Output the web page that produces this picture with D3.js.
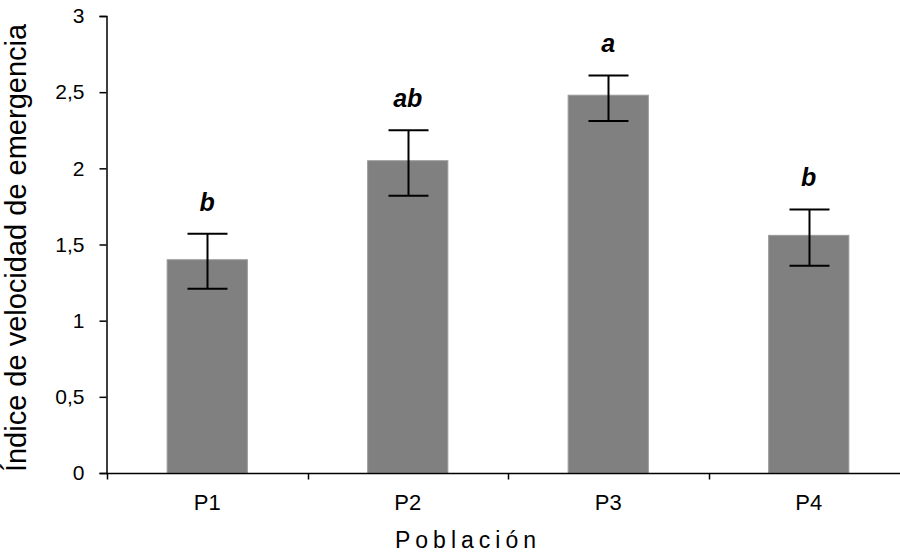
<!DOCTYPE html>
<html>
<head>
<meta charset="utf-8">
<script src="https://cdn.jsdelivr.net/npm/d3@7"></script>
<style>
  html, body { margin: 0; padding: 0; background: #fff; }
  svg { display: block; font-family: "Liberation Sans", Arial, sans-serif; }
</style>
</head>
<body>
<svg id="chart" width="900" height="554"></svg>
<script>
// Emergence speed index per population, with error bars and significance letters
const populations = ["P1", "P2", "P3", "P4"];
const means = [1.40, 2.05, 2.48, 1.56];
const errLow = [1.21, 1.82, 2.31, 1.36];
const errHigh = [1.57, 2.25, 2.61, 1.73];
const groups = ["b", "ab", "a", "b"];
const yTicks = [0, 0.5, 1, 1.5, 2, 2.5, 3];

const svg = d3.select("#chart");
const plotLeft = 107, plotRight = 909, plotTop = 16, plotBottom = 473;

const x = d3.scaleBand()
  .domain(populations)
  .range([plotLeft, plotRight])
  .paddingInner(0.6)
  .paddingOuter(0.3);

const y = d3.scaleLinear().domain([0, 3]).range([plotBottom, plotTop]);

const fmt = d => d3.format("")(d).replace(".", ",");

// Bars
svg.append("g").selectAll("rect")
  .data(populations)
  .join("rect")
  .attr("x", d => x(d))
  .attr("y", (d, i) => y(means[i]))
  .attr("width", x.bandwidth())
  .attr("height", (d, i) => y(0) - y(means[i]))
  .attr("fill", "#808080")
  .attr("stroke", "#9a9a9a")
  .attr("stroke-width", 1);

// Error bars
const capHalf = 20;
const eb = svg.append("g").attr("stroke", "#000").attr("stroke-width", 2);
populations.forEach((p, i) => {
  const cx = Math.round(x(p) + x.bandwidth() / 2) + 0.5;
  eb.append("line").attr("x1", cx).attr("x2", cx)
    .attr("y1", y(errLow[i])).attr("y2", y(errHigh[i]));
  eb.append("line").attr("x1", cx - capHalf).attr("x2", cx + capHalf)
    .attr("y1", y(errHigh[i])).attr("y2", y(errHigh[i]));
  eb.append("line").attr("x1", cx - capHalf).attr("x2", cx + capHalf)
    .attr("y1", y(errLow[i])).attr("y2", y(errLow[i]));
});

// Significance letters
svg.append("g").selectAll("text")
  .data(populations)
  .join("text")
  .attr("x", d => x(d) + x.bandwidth() / 2)
  .attr("y", (d, i) => y(errHigh[i]) - 23)
  .attr("text-anchor", "middle")
  .style("font-size", "25px")
  .attr("font-weight", "bold")
  .attr("font-style", "italic")
  .attr("fill", "#000")
  .text((d, i) => groups[i]);

// Y axis
const yAxis = svg.append("g")
  .attr("transform", `translate(${plotLeft - 0.5},0)`)
  .call(d3.axisLeft(y).tickValues(yTicks).tickFormat(fmt).tickSize(7).tickSizeOuter(7).tickPadding(15));
yAxis.attr("font-size", null).attr("font-family", null);
yAxis.select(".domain").attr("stroke", "#000").attr("stroke-width", 1.5);
yAxis.selectAll(".tick line").attr("stroke", "#000").attr("stroke-width", 1.5);
yAxis.selectAll(".tick text")
  .style("font-size", "21px")
  .style("font-family", "'Liberation Sans', Arial, sans-serif")
  .attr("fill", "#000");

// X axis with ticks at category boundaries
const xg = svg.append("g").attr("transform", `translate(0,${plotBottom + 0.5})`);
xg.append("line").attr("x1", plotLeft - 1).attr("x2", plotRight).attr("y1", 0).attr("y2", 0)
  .attr("stroke", "#000").attr("stroke-width", 1.5);
const step = x.step();
const boundaries = populations.map(p => x(p) - x.paddingInner() * step / 2);
xg.selectAll("line.tick").data(boundaries).join("line")
  .attr("class", "tick")
  .attr("x1", d => Math.round(d) + 0.5).attr("x2", d => Math.round(d) + 0.5)
  .attr("y1", 0).attr("y2", 6)
  .attr("stroke", "#000").attr("stroke-width", 1.5);
xg.selectAll("text").data(populations).join("text")
  .attr("x", d => x(d) + x.bandwidth() / 2)
  .attr("y", 36)
  .attr("text-anchor", "middle")
  .style("font-size", "22px")
  .attr("fill", "#000")
  .text(d => d);

// Axis titles
svg.append("text")
  .attr("x", 468).attr("y", 548)
  .attr("text-anchor", "middle")
  .style("font-size", "23px")
  .attr("letter-spacing", "5px")
  .attr("fill", "#000")
  .text("Población");

svg.append("text")
  .attr("transform", "translate(26,248) rotate(-90)")
  .attr("text-anchor", "middle")
  .style("font-size", "29px")
  .attr("fill", "#000")
  .text("Índice de velocidad de emergencia");
</script>
</body>
</html>
